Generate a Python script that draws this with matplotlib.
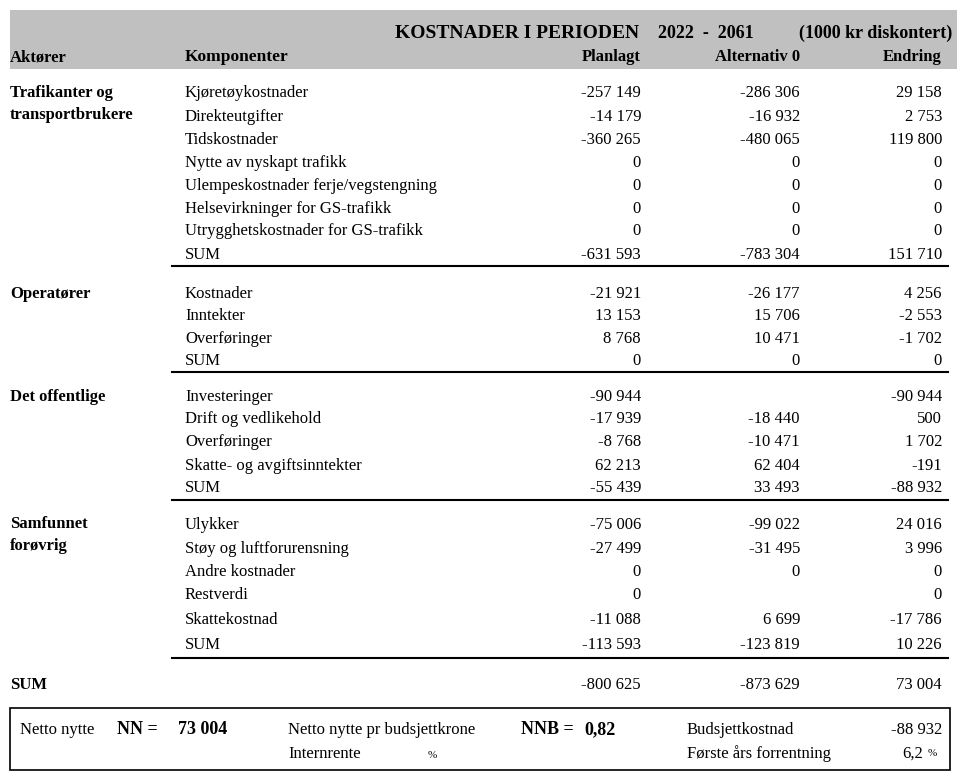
import matplotlib
matplotlib.use("Agg")
import matplotlib.pyplot as plt
from matplotlib.patches import Rectangle

plt.rcParams['font.family'] = ['Liberation Serif', 'DejaVu Serif']

# ---- data ----
title_parts = ["KOSTNADER I PERIODEN", "2022  -  2061", "(1000 kr diskontert)"]
col_headers = ["Aktører", "Komponenter", "Planlagt", "Alternativ 0", "Endring"]

groups = ["Trafikanter og\ntransportbrukere", "Operatører", "Det offentlige", "Samfunnet\nforøvrig"]

components = [
    ["Kjøretøykostnader", "Direkteutgifter", "Tidskostnader", "Nytte av nyskapt trafikk",
     "Ulempeskostnader ferje/vegstengning", "Helsevirkninger for GS-trafikk",
     "Utrygghetskostnader for GS-trafikk", "SUM"],
    ["Kostnader", "Inntekter", "Overføringer", "SUM"],
    ["Investeringer", "Drift og vedlikehold", "Overføringer", "Skatte- og avgiftsinntekter", "SUM"],
    ["Ulykker", "Støy og luftforurensning", "Andre kostnader", "Restverdi", "Skattekostnad", "SUM"],
]
planlagt = [
    [-257149, -14179, -360265, 0, 0, 0, 0, -631593],
    [-21921, 13153, 8768, 0],
    [-90944, -17939, -8768, 62213, -55439],
    [-75006, -27499, 0, 0, -11088, -113593],
]
alternativ0 = [
    [-286306, -16932, -480065, 0, 0, 0, 0, -783304],
    [-26177, 15706, 10471, 0],
    [None, -18440, -10471, 62404, 33493],
    [-99022, -31495, 0, None, 6699, -123819],
]
endring = [
    [29158, 2753, 119800, 0, 0, 0, 0, 151710],
    [4256, -2553, -1702, 0],
    [-90944, 500, 1702, -191, -88932],
    [24016, 3996, 0, 0, -17786, 10226],
]
total = ["SUM", -800625, -873629, 73004]

nn_value = "73 004"
nnb_value = "0,82"
budsjettkostnad = -88932
forrentning = "6,2"

# layout (pixels)
row_y = [
    [93, 117, 140, 163, 186, 209, 231, 255],
    [294, 316, 339, 361],
    [397, 419, 442, 466, 488],
    [525, 549, 572, 595, 620, 645],
]
line_y = [266, 372, 500, 658]
group_label_y = [93, 294, 397, 524]


def fmt(v):
    if v is None:
        return ""
    return f"{v:,}".replace(",", " ")


W, H = 957, 778
fig = plt.figure(figsize=(W / 100, H / 100), dpi=100)
ax = fig.add_axes([0, 0, 1, 1])
ax.set_xlim(0, W)
ax.set_ylim(H, 0)
ax.axis("off")

FS = 12
x_act, x_comp = 10, 185
x_plan, x_alt, x_end = 641, 800, 942

# header band
ax.add_patch(Rectangle((10, 10), W - 10, 59, facecolor="#c0c0c0", edgecolor="none"))
ax.text(395, 33, title_parts[0], ha="left", va="center", fontsize=14, fontweight="bold")
ax.text(658, 33, title_parts[1], ha="left", va="center", fontsize=13, fontweight="bold")
ax.text(952, 33, title_parts[2], ha="right", va="center", fontsize=13, fontweight="bold")
ax.text(x_act, 57, col_headers[0], ha="left", va="center", fontsize=FS, fontweight="bold")
ax.text(x_comp, 57, col_headers[1], ha="left", va="center", fontsize=FS + 0.5, fontweight="bold")
ax.text(x_plan, 57, col_headers[2], ha="right", va="center", fontsize=FS, fontweight="bold")
ax.text(x_alt, 57, col_headers[3], ha="right", va="center", fontsize=FS, fontweight="bold")
ax.text(x_end, 57, col_headers[4], ha="right", va="center", fontsize=FS, fontweight="bold")

for g in range(len(groups)):
    for k, line in enumerate(groups[g].split("\n")):
        ax.text(x_act, group_label_y[g] + 22 * k, line, ha="left", va="center",
                fontsize=FS, fontweight="bold")
    for i, comp in enumerate(components[g]):
        y = row_y[g][i]
        ax.text(x_comp, y, comp, ha="left", va="center", fontsize=FS)
        ax.text(x_plan, y, fmt(planlagt[g][i]), ha="right", va="center", fontsize=FS)
        ax.text(x_alt, y, fmt(alternativ0[g][i]), ha="right", va="center", fontsize=FS)
        ax.text(x_end, y, fmt(endring[g][i]), ha="right", va="center", fontsize=FS)
    ax.plot([172, 948], [line_y[g], line_y[g]], color="black", lw=1.5)

# total row
ax.text(x_act, 685, total[0], ha="left", va="center", fontsize=FS, fontweight="bold")
ax.text(x_plan, 685, fmt(total[1]), ha="right", va="center", fontsize=FS)
ax.text(x_alt, 685, fmt(total[2]), ha="right", va="center", fontsize=FS)
ax.text(x_end, 685, fmt(total[3]), ha="right", va="center", fontsize=FS)

# bottom box
ax.add_patch(Rectangle((10, 708), 940, 62, facecolor="none", edgecolor="black", lw=1.2))
ax.text(20, 730, "Netto nytte", ha="left", va="center", fontsize=FS)
ax.text(117, 730, "NN =", ha="left", va="center", fontsize=13, fontweight="bold")
ax.text(178, 730, nn_value, ha="left", va="center", fontsize=13, fontweight="bold")
ax.text(288, 730, "Netto nytte pr budsjettkrone", ha="left", va="center", fontsize=FS)
ax.text(521, 730, "NNB =", ha="left", va="center", fontsize=13, fontweight="bold")
ax.text(584, 730, nnb_value, ha="left", va="center", fontsize=13, fontweight="bold")
ax.text(687, 730, "Budsjettkostnad", ha="left", va="center", fontsize=FS)
ax.text(x_end, 730, fmt(budsjettkostnad), ha="right", va="center", fontsize=FS)
ax.text(288, 754, "Internrente", ha="left", va="center", fontsize=FS)
ax.text(428, 755, "%", ha="left", va="center", fontsize=8)
ax.text(687, 754, "Første års forrentning", ha="left", va="center", fontsize=FS)
ax.text(923, 754, forrentning, ha="right", va="center", fontsize=FS)
ax.text(928, 753, "%", ha="left", va="center", fontsize=8)

fig.savefig("out.png", dpi=100, facecolor="white")
